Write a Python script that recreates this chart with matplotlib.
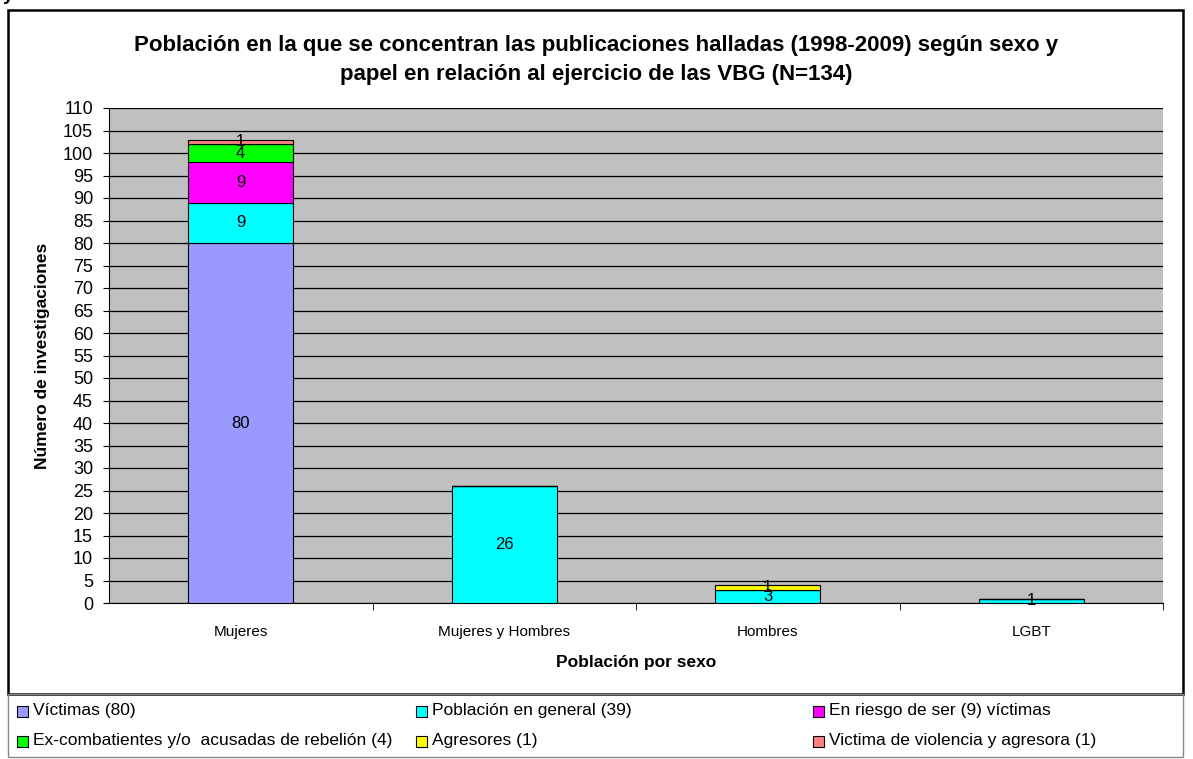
import numpy as np
import matplotlib.pyplot as plt
from matplotlib.patches import Rectangle

plt.rcParams['font.family'] = ['Liberation Sans', 'DejaVu Sans']

categories = ['Mujeres', 'Mujeres y Hombres', 'Hombres', 'LGBT']
series_names = ['Víctimas (80)', 'Población en general (39)', 'En riesgo de ser (9) víctimas',
                'Ex-combatientes y/o  acusadas de rebelión (4)', 'Agresores (1)',
                'Victima de violencia y agresora (1)']
victimas = [80, 0, 0, 0]
poblacion = [9, 26, 3, 1]
riesgo = [9, 0, 0, 0]
excomb = [4, 0, 0, 0]
agresores = [0, 0, 1, 0]
victima_agresora = [1, 0, 0, 0]
colors = ['#9999FF', '#00FFFF', '#FF00FF', '#00FF00', '#FFFF00', '#FF8080']

W, H = 1193, 759
fig = plt.figure(figsize=(W / 100, H / 100), dpi=100)

# outer frame and legend box
fig.patches.append(Rectangle((8 / W, 1 - 694 / H), 1175 / W, 684 / H, transform=fig.transFigure,
                             fill=False, edgecolor='black', lw=1.8))
fig.patches.append(Rectangle((8 / W, 1 - 757 / H), 1175 / W, 63 / H, transform=fig.transFigure,
                             fill=False, edgecolor='#888888', lw=1.0))
fig.text(3 / W, 1 + 4 / H, 'y', fontsize=14, fontweight='bold', va='center', ha='left')

ax = fig.add_axes([109 / W, 1 - 603 / H, 1054 / W, 495 / H])
ax.set_facecolor('#C0C0C0')

x = np.arange(len(categories))
bottom = np.zeros(len(categories))
for vals, col in zip([victimas, poblacion, riesgo, excomb, agresores, victima_agresora], colors):
    vals = np.array(vals, dtype=float)
    ax.bar(x, vals, 0.4, bottom=bottom, color=col, edgecolor='black', linewidth=0.8, zorder=3)
    for xi, v, b in zip(x, vals, bottom):
        if v > 0:
            ax.text(xi, b + v / 2, f'{int(v)}', ha='center', va='center', fontsize=12, zorder=4)
    bottom += vals

ax.set_xlim(-0.5, len(categories) - 0.5)
ax.set_ylim(0, 110)
ax.set_yticks(np.arange(0, 111, 5))
ax.yaxis.grid(True, color='black', linewidth=0.9, zorder=1)
ax.set_axisbelow(True)
ax.set_xticks(x)
ax.set_xticklabels(categories, fontsize=11)
ax.set_xticks(np.arange(0.5, len(categories), 1), minor=True)
ax.tick_params(axis='x', which='major', length=0, pad=16)
ax.tick_params(axis='x', which='minor', length=5, color='black')
ax.tick_params(axis='y', labelsize=13, length=4.5, pad=7)
for s in ['top', 'right']:
    ax.spines[s].set_visible(False)
ax.spines['left'].set_color('black')
ax.spines['bottom'].set_color('black')

ax.set_ylabel('Número de investigaciones', fontsize=12.5, fontweight='bold')
ax.yaxis.set_label_coords((43 - 109) / 1054, 0.5)
ax.set_xlabel('Población por sexo', fontsize=12.5, fontweight='bold')
ax.xaxis.set_label_coords(0.5, (603 - 662) / 495)
ax.xaxis.label.set_va('center')
ax.yaxis.label.set_va('center')

fig.text(596 / W, 1 - 60 / H,
         'Población en la que se concentran las publicaciones halladas (1998-2009) según sexo y\n'
         'papel en relación al ejercicio de las VBG (N=134)',
         ha='center', va='center', fontsize=16, fontweight='bold', linespacing=1.55)

# legend laid out in rows of three
col_x = [17, 416, 813]
row_y = [711, 741]
for i, (name, col) in enumerate(zip(series_names, colors)):
    cx = col_x[i % 3]
    cy = row_y[i // 3]
    fig.patches.append(Rectangle((cx / W, 1 - (cy + 5.5) / H), 11 / W, 11 / H, transform=fig.transFigure,
                                 facecolor=col, edgecolor='black', lw=0.8))
    fig.text((cx + 16) / W, 1 - cy / H, name, ha='left', va='center', fontsize=12.5)

fig.savefig('out.png', dpi=100)
